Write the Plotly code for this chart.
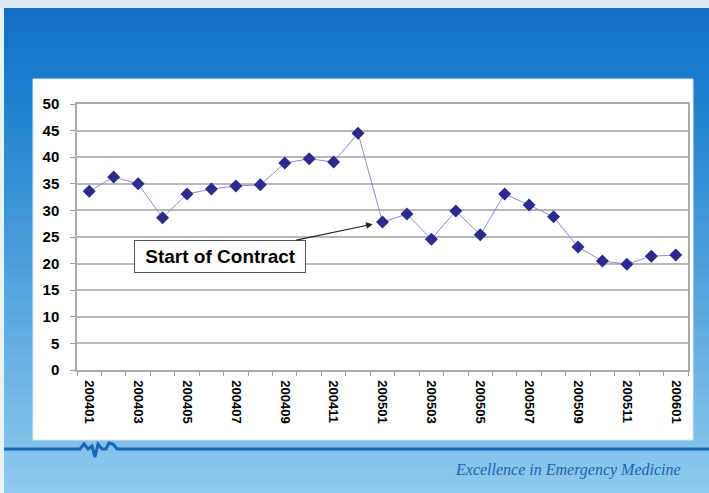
import plotly.graph_objects as go

# ---------------- data ----------------
months = ["200401", "200402", "200403", "200404", "200405", "200406", "200407",
          "200408", "200409", "200410", "200411", "200412", "200501", "200502",
          "200503", "200504", "200505", "200506", "200507", "200508", "200509",
          "200510", "200511", "200512", "200601"]
values = [33.6, 36.3, 35.0, 28.6, 33.1, 34.0, 34.6, 34.8, 38.9, 39.7, 39.1, 44.5,
          27.8, 29.3, 24.6, 29.9, 25.4, 33.1, 31.0, 28.8, 23.1, 20.5, 19.9, 21.4, 21.6]
tick_labels = [m if i % 2 == 0 else "" for i, m in enumerate(months)]
annotation_text = "Start of Contract"
annotation_month = "200501"
footer_text = "Excellence in Emergency Medicine"

# ---------------- layout geometry ----------------
W, H = 709, 493
ML, MR, MT, MB = 77, 21, 104, 123
PW, PH = W - ML - MR, H - MT - MB


def px(x):
    return (x - ML) / PW


def py(y):
    return (H - MB - y) / PH


def lerp(c1, c2, t):
    return "rgb(%d,%d,%d)" % tuple(round(a + (b - a) * t) for a, b in zip(c1, c2))


shapes = []
# vertical gradient background
top_c, mid_c, bot_c = (20, 112, 198), (30, 128, 206), (142, 202, 238)
n = 60
for i in range(n):
    y0 = 8 + (H - 8) * i / n
    y1 = 8 + (H - 8) * (i + 1) / n + 0.6
    t = i / (n - 1)
    if t < 0.18:
        c = lerp(top_c, mid_c, t / 0.18)
    else:
        c = lerp(mid_c, bot_c, (t - 0.18) / 0.82)
    shapes.append(dict(type="rect", xref="paper", yref="paper", x0=px(0), x1=px(W),
                       y0=py(y1), y1=py(y0), fillcolor=c, line_width=0, layer="below"))
# top pale strip
shapes.append(dict(type="rect", xref="paper", yref="paper", x0=px(0), x1=px(W),
                   y0=py(8), y1=py(0), fillcolor="#dceaf6", line_width=0, layer="below"))
# thin pale left edge
shapes.append(dict(type="rect", xref="paper", yref="paper", x0=px(0), x1=px(4),
                   y0=py(H), y1=py(8), fillcolor="#e8f2fa", line_width=0, layer="below"))
# white chart panel
shapes.append(dict(type="rect", xref="paper", yref="paper", x0=px(33), x1=px(693),
                   y0=py(440), y1=py(79), fillcolor="white",
                   line=dict(color="#dfe8f0", width=1), layer="below"))
# ECG line
pts = [(4, 449), (80, 449), (84, 444), (88, 449), (92, 446), (95, 457), (98, 444),
       (102, 449), (106, 449), (109, 443), (113, 444), (117, 449), (W, 449)]
path = "M " + " L ".join("%f,%f" % (px(x), py(y)) for x, y in pts)
shapes.append(dict(type="path", xref="paper", yref="paper", path=path,
                   line=dict(color="#1767b4", width=3), layer="below"))

fig = go.Figure()
fig.add_trace(go.Scatter(
    x=months, y=values, mode="lines+markers",
    line=dict(color="#8c8cd2", width=1),
    marker=dict(symbol="diamond", size=10, color="#2b2b8e"),
    showlegend=False, cliponaxis=False,
))

idx = months.index(annotation_month)
fig.add_annotation(
    x=idx, y=values[idx],
    xref="x", yref="y", text="&nbsp;<b>%s</b>&nbsp;" % annotation_text,
    showarrow=True, arrowhead=2, arrowsize=1.1, arrowwidth=1.2, arrowcolor="#222222",
    axref="pixel", ayref="pixel", ax=-163, ay=34, standoff=10,
    font=dict(family="Liberation Sans, Arial", size=19, color="black"),
    bgcolor="white", bordercolor="#555555", borderwidth=1, borderpad=5,
)

fig.add_annotation(
    x=px(683), y=py(470), xref="paper", yref="paper", xanchor="right", yanchor="middle",
    text="<i>%s</i>" % footer_text, showarrow=False,
    font=dict(family="Liberation Serif, serif", size=16, color="#1c62ad"),
)

fig.update_layout(
    width=W, height=H,
    margin=dict(l=ML, r=MR, t=MT, b=MB, pad=0),
    paper_bgcolor="#1e80ce", plot_bgcolor="white",
    shapes=shapes,
    font=dict(family="Liberation Sans, Arial", color="black"),
)
fig.update_xaxes(
    type="category", categoryorder="array", categoryarray=months,
    tickmode="array", tickvals=months,
    ticktext=["<b>%s</b>" % t if t else "" for t in tick_labels],
    tickson="boundaries", ticks="outside", ticklen=4, tickcolor="#999999",
    tickangle=90, tickfont=dict(size=13, family="Liberation Sans, Arial", color="black"),
    showgrid=False, showline=True, linecolor="#aaaaaa", linewidth=1.5, mirror=True,
    range=[-0.5, len(months) - 0.5], zeroline=False, ticklabelstandoff=6,
)
fig.update_yaxes(
    range=[0, 50], dtick=5, tick0=0, ticks="outside", ticklen=5, tickcolor="#999999",
    tickfont=dict(size=15, family="Liberation Sans, Arial", color="black"),
    tickprefix="<b>", ticksuffix="</b>", ticklabelstandoff=8,
    showgrid=True, gridcolor="#b8b8b8", gridwidth=1.5,
    showline=True, linecolor="#aaaaaa", linewidth=1.5, mirror=True, zeroline=False,
)

fig.write_html("out.html", post_script="document.body.style.margin='0';",
               config={"displayModeBar": False})
